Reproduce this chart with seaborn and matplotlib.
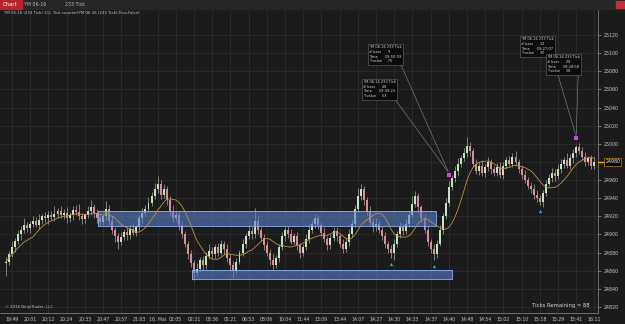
import numpy as np
import pandas as pd
import matplotlib.pyplot as plt
import seaborn as sns

# close of each 233 tick bar (YM 06-16)
closes = [24870, 24878, 24886, 24893, 24900, 24905, 24910, 24907, 24912, 24915,
          24911, 24916, 24920, 24918, 24922, 24919, 24923, 24926, 24921, 24924,
          24918, 24922, 24927, 24925, 24920, 24917, 24921, 24926, 24930, 24924,
          24918, 24914, 24920, 24928, 24915, 24905, 24898, 24892, 24897, 24903,
          24899, 24906, 24902, 24908, 24918, 24924, 24928, 24935, 24942, 24950,
          24956, 24944, 24950, 24938, 24926, 24918, 24922, 24910, 24900, 24890,
          24878, 24868, 24858, 24862, 24872, 24866, 24876, 24882, 24878, 24886,
          24880, 24890, 24884, 24874, 24866, 24860, 24870, 24880, 24890, 24898,
          24904, 24900, 24915, 24905, 24896, 24888, 24880, 24872, 24866, 24874,
          24886, 24898, 24905, 24900, 24892, 24898, 24888, 24880, 24886, 24895,
          24905, 24912, 24918, 24910, 24902, 24895, 24888, 24896, 24904, 24898,
          24890, 24884, 24892, 24900, 24912, 24928, 24942, 24950, 24938, 24926,
          24914, 24908, 24912, 24905, 24898, 24890, 24884, 24880, 24890, 24900,
          24908, 24904, 24912, 24922, 24934, 24942, 24930, 24918, 24905, 24892,
          24884, 24878, 24890, 24905, 24920, 24935, 24952, 24962, 24970, 24978,
          24984, 24990, 24998, 24992, 24978, 24970, 24976, 24968, 24974, 24980,
          24972, 24968, 24974, 24966, 24976, 24982, 24978, 24986, 24980, 24972,
          24966, 24960, 24954, 24950, 24944, 24940, 24936, 24946, 24956, 24962,
          24968, 24964, 24972, 24978, 24982, 24976, 24984, 24990, 24996, 24992,
          24986, 24980, 24984, 24976, 24980]

upper_wick = [5, 4, 6, 3, 5, 4, 8, 4, 3, 5,
              4, 7, 3, 5, 4, 4, 8, 3, 5, 4,
              6, 3, 4, 5, 9, 4, 3, 5, 8, 4,
              4, 5, 3, 9, 4, 5, 3, 4, 6, 3,
              5, 4, 6, 3, 4, 5, 4, 6, 5, 7,
              9, 4, 6, 3, 4, 6, 4, 3, 5, 4,
              3, 5, 4, 6, 3, 4, 5, 8, 4, 3,
              5, 4, 3, 6, 4, 5, 4, 3, 5, 4,
              6, 4, 14, 5, 3, 4, 5, 4, 6, 3,
              4, 5, 3, 4, 6, 4, 5, 3, 4, 5,
              7, 4, 5, 3, 4, 6, 3, 5, 4, 4,
              3, 5, 4, 6, 4, 5, 9, 6, 4, 3,
              5, 4, 6, 3, 4, 5, 3, 4, 5, 4,
              6, 4, 5, 3, 8, 6, 4, 3, 5, 4,
              3, 5, 4, 6, 4, 5, 7, 4, 5, 6,
              4, 5, 9, 4, 3, 5, 4, 6, 4, 5,
              3, 4, 5, 6, 4, 3, 5, 4, 6, 3,
              4, 5, 3, 4, 6, 5, 4, 3, 4, 5,
              5, 4, 6, 5, 4, 8, 5, 4, 3, 5,
              4, 5, 3, 4, 5]

lower_wick = [14, 4, 3, 5, 4, 6, 3, 4, 5, 4,
              3, 5, 4, 4, 6, 3, 4, 5, 3, 4,
              5, 4, 6, 3, 4, 5, 4, 3, 4, 6,
              5, 3, 4, 4, 5, 4, 6, 8, 4, 3,
              5, 4, 3, 4, 3, 5, 4, 3, 4, 3,
              4, 5, 4, 6, 5, 4, 3, 5, 4, 4,
              5, 4, 8, 4, 3, 5, 4, 3, 5, 4,
              4, 3, 5, 4, 6, 8, 4, 3, 4, 5,
              3, 5, 4, 4, 3, 5, 4, 6, 4, 3,
              4, 3, 5, 4, 3, 4, 5, 6, 4, 3,
              4, 3, 5, 4, 4, 3, 5, 4, 3, 5,
              4, 4, 3, 5, 3, 4, 3, 4, 5, 4,
              3, 5, 4, 3, 4, 5, 4, 6, 8, 4,
              4, 5, 3, 4, 3, 4, 5, 4, 3, 5,
              4, 6, 4, 3, 4, 3, 4, 3, 4, 5,
              4, 3, 4, 5, 4, 3, 4, 3, 5, 4,
              5, 4, 3, 4, 5, 4, 3, 4, 3, 4,
              5, 3, 4, 4, 5, 4, 3, 6, 4, 3,
              4, 5, 3, 4, 5, 3, 4, 5, 4, 3,
              4, 5, 3, 4, 4]

time_labels = ["19:49", "20:01", "20:12", "20:24", "20:33", "20:47", "20:57", "21:03",
               "16. Mai", "02:05", "02:21", "03:36", "05:21", "06:53", "08:06", "10:04",
               "11:44", "13:09", "13:44", "14:07", "14:27", "14:30", "14:33", "14:37",
               "14:40", "14:48", "14:54", "15:02", "15:10", "15:18", "15:29", "15:41", "16:11"]
price_ticks = list(range(24820, 25121, 20))

# drawn zones: (first bar, last bar, low, high)
upper_zone = (30.4, 141.8, 24909, 24926)
lower_zone = (61.3, 147.1, 24851, 24861)
blue_marks = [127, 141, 176]
magenta_marks = [146, 188]

# callout boxes: bar of the marker, box text, top-left of box in pixels
callouts = [(146, "YM 06-16 233 Tick\n# bars      9\nTime      09:50:59\nY value     75", (369, 45)),
            (146, "YM 06-16 233 Tick\n# bars      48\nTime      09:49:23\nY value     53", (363, 80)),
            (188, "YM 06-16 233 Tick\n# bars      32\nTime      09:27:07\nY value     30", (521, 37)),
            (188, "YM 06-16 233 Tick\n# bars      28\nTime      09:28:58\nY value     38", (547, 55))]

df = pd.DataFrame({"close": closes})
df["open"] = df["close"].shift(1).fillna(24868)
df["high"] = df[["open", "close"]].max(axis=1) + np.array(upper_wick)
df["low"] = df[["open", "close"]].min(axis=1) - np.array(lower_wick)
df["bar"] = np.arange(len(df))
df["sma"] = df["close"].rolling(10, min_periods=1).mean()

bg = "#1b1b1b"
sns.set_theme(style="dark", rc={"axes.facecolor": bg, "figure.facecolor": bg,
                                "axes.edgecolor": "#7a7a7a", "text.color": "#c8c8c8",
                                "xtick.color": "#c8c8c8", "ytick.color": "#c8c8c8"})
plt.rcParams["font.family"] = ["DejaVu Sans"]

fig = plt.figure(figsize=(6.25, 3.24), dpi=100)
ax = fig.add_axes([0, 11 / 324, 598 / 625, 304 / 324])

ax.grid(True, color="#2c2c2c", lw=0.6)
ax.set_axisbelow(True)

for x0, x1, lo, hi in [upper_zone, lower_zone]:
    ax.fill_between([x0, x1], lo, hi, color="#5b7fc8", alpha=0.6, lw=0, zorder=4)
    ax.plot([x0, x1, x1, x0, x0], [lo, lo, hi, hi, lo], color="#8fb2f0", lw=0.6, zorder=4)

up = df["close"] >= df["open"]
ax.vlines(df["bar"], df["low"], df["high"], color="#a9a9a9", lw=0.5, zorder=2)
body = (df["close"] - df["open"]).abs().clip(lower=0.8)
ax.bar(df["bar"][up], body[up], bottom=df[["open", "close"]].min(axis=1)[up],
       width=0.65, color="#c4e3bd", lw=0, zorder=3)
ax.bar(df["bar"][~up], body[~up], bottom=df[["open", "close"]].min(axis=1)[~up],
       width=0.65, color="#d98e96", lw=0, zorder=3)

sns.lineplot(data=df, x="bar", y="sma", ax=ax, color="#b8953e", lw=0.6, zorder=5)

for b in blue_marks:
    ax.scatter(b, df["low"][b] - 7, marker="^", s=5, color="#3aa6e8", zorder=6, lw=0)
for b in magenta_marks:
    ax.scatter(b, df["high"][b] + 7, marker="s", s=7, color="#e23ce0", zorder=6, lw=0)

for b, txt, (px, py) in callouts:
    ax.annotate(txt, xy=(b, df["high"][b] + 9), xycoords="data",
                xytext=(px, 324 - py), textcoords="figure pixels",
                ha="left", va="top", fontsize=2.6, color="#d0d0d0", linespacing=1.25,
                bbox=dict(boxstyle="square,pad=0.4", fc="#0c0c0c", ec="#6a6a6a", lw=0.4),
                arrowprops=dict(arrowstyle="-", color="#8a8a8a", lw=0.4,
                                relpos=(0.95, 0.0), shrinkA=0, shrinkB=1),
                zorder=7)

last = closes[-1]
ax.set_xlim(-1.96, 195.2)
ax.set_ylim(24813.4, 25148.7)
ax.set_xticks(np.arange(len(time_labels)) * 6 + 2)
ax.set_xticklabels(time_labels, fontsize=3.3)
ax.set_yticks(price_ticks)
# the current price box covers the 24980 level
ax.set_yticklabels(["" if p == 24980 else str(p) for p in price_ticks], fontsize=3.4)
ax.yaxis.tick_right()
ax.tick_params(axis="y", length=2, width=0.5, pad=2, color="#9a9a9a")
ax.tick_params(axis="x", length=2, width=0.5, pad=1, color="#9a9a9a")
ax.set_xlabel("")
ax.set_ylabel("")
for s in ["top", "left"]:
    ax.spines[s].set_visible(False)
ax.spines["right"].set_linewidth(0.6)
ax.spines["bottom"].set_linewidth(0.6)

# current price marker on the axis
ax.plot([1.0, 1.012], [last, last], transform=ax.get_yaxis_transform(),
        color="#f0a020", lw=1.0, clip_on=False, zorder=8)
ax.annotate(str(last), xy=(1.012, last), xycoords=("axes fraction", "data"),
            ha="left", va="center", fontsize=3.4, color="white",
            bbox=dict(boxstyle="square,pad=0.25", fc="#000000", ec="#f0a020", lw=0.4),
            annotation_clip=False, zorder=9)

# toolbar and header text
fig.patches.append(plt.Rectangle((0, 1 - 9 / 324), 1, 9 / 324, transform=fig.transFigure,
                                 color="#262626", zorder=0))
fig.patches.append(plt.Rectangle((0, 1 - 9 / 324), 22 / 625, 9 / 324, transform=fig.transFigure,
                                 color="#b3262b", zorder=1))
fig.text(3 / 625, 1 - 4.5 / 324, "Chart", fontsize=3.8, color="white", va="center")
fig.text(24 / 625, 1 - 4.5 / 324, "YM 06-16", fontsize=3.4, color="#bdbdbd", va="center")
fig.text(65 / 625, 1 - 4.5 / 324, "233 Tick", fontsize=3.4, color="#bdbdbd", va="center")
fig.patches.append(plt.Rectangle((616 / 625, 1 - 8 / 324), 8 / 625, 7 / 324, transform=fig.transFigure,
                                 color="#c0323a", zorder=1))
fig.text(4 / 625, 1 - 13 / 324,
         "YM 06-16 (233 Tick) 1/1, Tick counter(YM 06-16 (233 Tick),True,False)",
         fontsize=2.8, color="#c8c8c8", va="center")
fig.text(5 / 625, 1 - 307 / 324, "\u00a9 2016 NinjaTrader, LLC", fontsize=2.8,
         color="#bdbdbd", va="center")
fig.text(590 / 625, 1 - 306 / 324, "Ticks Remaining = 88", fontsize=3.8,
         color="#d8d8d8", va="center", ha="right")

fig.savefig("out.png", dpi=100, facecolor=bg)
